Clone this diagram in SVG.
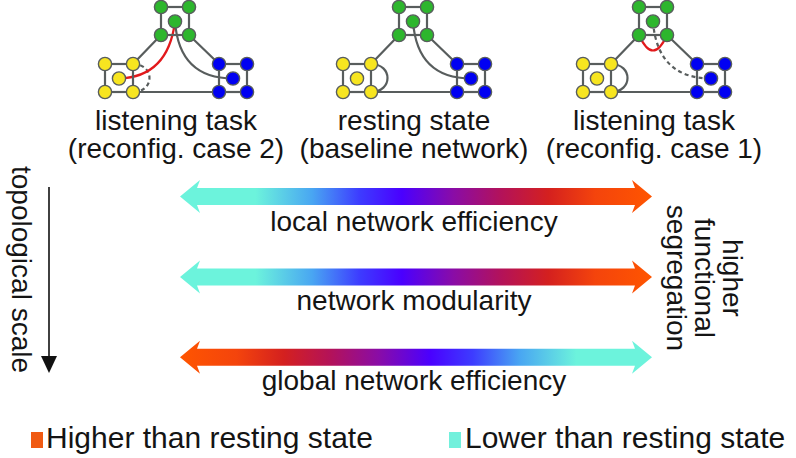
<svg xmlns="http://www.w3.org/2000/svg" xmlns:xlink="http://www.w3.org/1999/xlink" width="796" height="458" viewBox="0 0 796 458">
<style>
  .t{font-family:"Liberation Sans",Arial,sans-serif;font-size:28px;fill:#141414}
  .m{text-anchor:middle}
  .lg{font-size:30px}
  .e{fill:none;stroke:#585d5d;stroke-width:2.2}
  .d{stroke-dasharray:4 3.2}
  .r{fill:none;stroke:#e2191c;stroke-width:2.2}
  .n{stroke:#585d5d;stroke-width:1.4}
</style>
<defs>
  <linearGradient id="gTO" gradientUnits="userSpaceOnUse" x1="180" y1="0" x2="652" y2="0">
    <stop offset="0" stop-color="#6cf3dc"/>
    <stop offset="0.16" stop-color="#6cf3dc"/>
    <stop offset="0.28" stop-color="#49a6f2"/>
    <stop offset="0.38" stop-color="#3d3cff"/>
    <stop offset="0.47" stop-color="#4a00ff"/>
    <stop offset="0.58" stop-color="#8a0ca6"/>
    <stop offset="0.68" stop-color="#b3125a"/>
    <stop offset="0.78" stop-color="#d4201f"/>
    <stop offset="0.88" stop-color="#f4440c"/>
    <stop offset="1" stop-color="#ff5500"/>
  </linearGradient>
  <linearGradient id="gOT" xlink:href="#gTO" x1="652" x2="180"/>
  <path id="arr" d="M180,0 L200,-16.5 L197,-8.5 L635,-8.5 L632,-16.5 L652,0 L632,16.5 L635,8.5 L197,8.5 L200,16.5 Z"/>
  <g id="cl">
    <rect class="e" x="0" y="0" width="28" height="28"/>
    <circle class="n" cx="0" cy="0" r="6.6"/>
    <circle class="n" cx="28" cy="0" r="6.6"/>
    <circle class="n" cx="0" cy="28" r="6.6"/>
    <circle class="n" cx="28" cy="28" r="6.6"/>
    <circle class="n" cx="14" cy="14.5" r="6.6"/>
  </g>
</defs>
<rect width="796" height="458" fill="#fff"/>

<g id="connectors">
  <g id="net1-edges">
    <path class="e" d="M161,35 L133,64 M189,35 L219,64 M133,92 L219,92"/>
    <path class="e" d="M175,21.5 C178,62 200,78.5 233,78.5"/>
    <path class="e d" d="M133,64 C155,64 155,92 133,92"/>
    <path class="r" d="M175,21.5 Q168,77 119,78.5"/>
  </g>
  <g id="net2-edges" transform="translate(238,0)">
    <path class="e" d="M161,35 L133,64 M189,35 L219,64 M133,92 L219,92"/>
    <path class="e" d="M175,21.5 C178,62 200,78.5 233,78.5"/>
    <path class="e" d="M133,64 C155,64 155,92 133,92"/>
  </g>
  <g id="net3-edges" transform="translate(478,0)">
    <path class="e" d="M161,35 L133,64 M189,35 L219,64 M133,92 L219,92"/>
    <path class="e d" d="M175,21.5 C178,62 200,78.5 233,78.5"/>
    <path class="e" d="M133,64 C155,64 155,92 133,92"/>
    <path class="r" d="M161,35 Q175,66 189,35"/>
  </g>
</g>

<g id="net1-yellow"><use xlink:href="#cl" x="105" y="64" fill="#f7e520"/></g>
<g id="net1-green"><use xlink:href="#cl" x="161" y="7" fill="#2db62d"/></g>
<g id="net1-blue"><use xlink:href="#cl" x="219" y="64" fill="#0000f2"/></g>
<g id="net2-yellow"><use xlink:href="#cl" x="343" y="64" fill="#f7e520"/></g>
<g id="net2-green"><use xlink:href="#cl" x="399" y="7" fill="#2db62d"/></g>
<g id="net2-blue"><use xlink:href="#cl" x="457" y="64" fill="#0000f2"/></g>
<g id="net3-yellow"><use xlink:href="#cl" x="583" y="64" fill="#f7e520"/></g>
<g id="net3-green"><use xlink:href="#cl" x="639" y="7" fill="#2db62d"/></g>
<g id="net3-blue"><use xlink:href="#cl" x="697" y="64" fill="#0000f2"/></g>

<g id="labels">
  <text class="t m" x="176" y="130">listening task</text>
  <text class="t m" x="176" y="158">(reconfig. case 2)</text>
  <text class="t m" x="414" y="130">resting state</text>
  <text class="t m" x="414" y="158">(baseline network)</text>
  <text class="t m" x="654" y="130">listening task</text>
  <text class="t m" x="654" y="158">(reconfig. case 1)</text>
</g>

<g id="scale-axis">
  <text class="t" transform="translate(12,166) rotate(90)">topological scale</text>
  <line x1="49" y1="187" x2="49" y2="359" stroke="#111" stroke-width="1.6"/>
  <polygon points="41,356 57,356 49,373" fill="#111"/>
</g>

<g id="arrow-local">
  <use xlink:href="#arr" y="196.5" fill="url(#gTO)"/>
  <text class="t m" x="414" y="231">local network efficiency</text>
</g>
<g id="arrow-modularity">
  <use xlink:href="#arr" y="277" fill="url(#gTO)"/>
  <text class="t m" x="414" y="310">network modularity</text>
</g>
<g id="arrow-global">
  <use xlink:href="#arr" y="357.3" fill="url(#gOT)"/>
  <text class="t m" x="414" y="390">global network efficiency</text>
</g>

<g id="segregation-label" class="t m">
  <text transform="translate(723,278) rotate(90)">higher</text>
  <text transform="translate(695,278) rotate(90)">functional</text>
  <text transform="translate(667,278) rotate(90)">segregation</text>
</g>

<g id="legend">
  <rect x="31" y="432" width="12" height="16" fill="#f05a12"/>
  <text class="t lg" x="46" y="448">Higher than resting state</text>
  <rect x="449" y="432" width="12" height="16" fill="#72f0dc"/>
  <text class="t lg" x="465" y="448">Lower than resting state</text>
</g>
</svg>
